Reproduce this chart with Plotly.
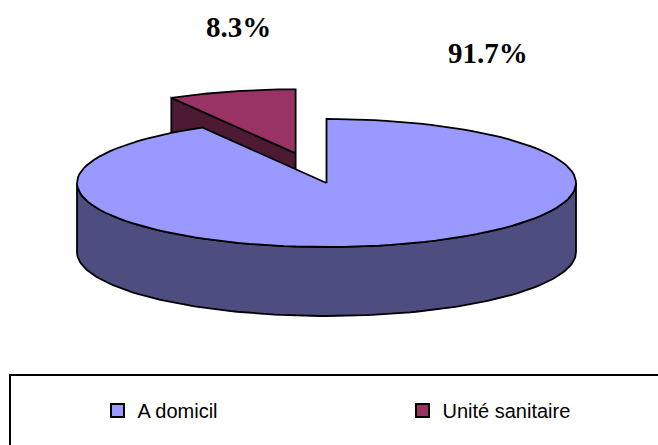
import math
import plotly.graph_objects as go

# ---- data ----
categories = ["A domicil", "Unité sanitaire"]
values = [91.7, 8.3]
exploded = [False, True]
top_colors = ["#9999FF", "#993366"]
side_colors = ["#4D4D80", "#4D1A33"]

# ---- geometry (layout) ----
W, H = 658, 445
CX, CY = 326.5, 183.0
RX, RY = 249.5, 64.0
DEPTH = 69.0
EXPLODE = 0.48
START = 90.0  # degrees, 12 o'clock, clockwise

total = sum(values)


def pt(cx, cy, th, dy=0.0):
    r = math.radians(th)
    return cx + RX * math.cos(r), cy - RY * math.sin(r) + dy


def arc(cx, cy, a0, a1, dy=0.0, n=120):
    xs, ys = [], []
    for i in range(n + 1):
        t = a0 + (a1 - a0) * i / n
        x, y = pt(cx, cy, t, dy)
        xs.append(x)
        ys.append(y)
    return xs, ys


def front_intervals(lo, hi):
    """parts of [lo, hi] (deg) where sin < 0 (front half)"""
    out = []
    k = math.floor((lo - (-180)) / 360) - 1
    for j in range(k, k + 4):
        a, b = -180 + 360 * j, 0 + 360 * j
        s, e = max(lo, a), min(hi, b)
        if e > s:
            out.append((s, e))
    return out


slices = []
ang = START
for i, v in enumerate(values):
    sweep = 360.0 * v / total
    hi, lo = ang, ang - sweep
    mid = (hi + lo) / 2
    cx, cy = CX, CY
    if exploded[i]:
        cx += EXPLODE * RX * math.cos(math.radians(mid))
        cy -= EXPLODE * RY * math.sin(math.radians(mid))
    slices.append(dict(i=i, lo=lo, hi=hi, mid=mid, cx=cx, cy=cy))
    ang = lo

# back to front
slices.sort(key=lambda s: -math.sin(math.radians(s["mid"])))

fig = go.Figure()
LINE = dict(color="black", width=1.8)


def poly(xs, ys, color):
    fig.add_trace(go.Scatter(
        x=xs + [xs[0]], y=ys + [ys[0]], mode="lines", fill="toself",
        fillcolor=color, line=LINE, hoverinfo="skip", showlegend=False))


for s in slices:
    i, cx, cy, lo, hi = s["i"], s["cx"], s["cy"], s["lo"], s["hi"]
    # cut faces
    for th, is_low in ((lo, True), (hi, False)):
        c = math.cos(math.radians(th))
        visible = (c > 1e-6) if is_low else (c < -1e-6)
        if visible:
            ex, ey = pt(cx, cy, th)
            poly([cx, ex, ex, cx], [cy, ey, ey + DEPTH, cy + DEPTH], side_colors[i])
    # outer side
    for a, b in front_intervals(lo, hi):
        tx, ty = arc(cx, cy, a, b)
        bx, by = arc(cx, cy, a, b, DEPTH)
        poly(tx + bx[::-1], ty + by[::-1], side_colors[i])
    # top face
    ax, ay = arc(cx, cy, hi, lo)
    poly([cx] + ax, [cy] + ay, top_colors[i])

# legend entries
legend_widths = [260, 150]
for i, name in enumerate(categories):
    fig.add_trace(go.Scatter(
        x=[None], y=[None], mode="markers", name=name,
        legendwidth=legend_widths[i],
        marker=dict(symbol="square", size=13, color=top_colors[i],
                    line=dict(color="black", width=2))))

# percentage labels
label_pos = [(487.5, 53), (238.5, 27)]
for i, v in enumerate(values):
    fig.add_annotation(
        x=label_pos[i][0], y=label_pos[i][1], xref="x", yref="y",
        text=f"<b>{v:.1f}%</b>", showarrow=False,
        font=dict(family="Liberation Serif", size=29, color="black"))

# legend frame
fig.add_shape(type="rect", x0=10, y0=375, x1=W + 20, y1=H + 20,
              xref="x", yref="y", line=dict(color="black", width=2),
              fillcolor="rgba(0,0,0,0)", layer="below")

fig.update_layout(
    width=W, height=H, margin=dict(l=0, r=0, t=0, b=0),
    paper_bgcolor="white", plot_bgcolor="white",
    xaxis=dict(range=[0, W], visible=False, fixedrange=True),
    yaxis=dict(range=[H, 0], visible=False, fixedrange=True),
    showlegend=True,
    legend=dict(orientation="h", x=(117.5 - 20) / W, xanchor="left",
                y=1 - 410.5 / H, yanchor="middle",
                bgcolor="rgba(0,0,0,0)", borderwidth=0,
                font=dict(family="Liberation Sans", size=20, color="black")),
)

fig.write_html("out.html", config={"displayModeBar": False},
               post_script="document.body.style.margin='0';document.body.style.overflow='hidden';")
